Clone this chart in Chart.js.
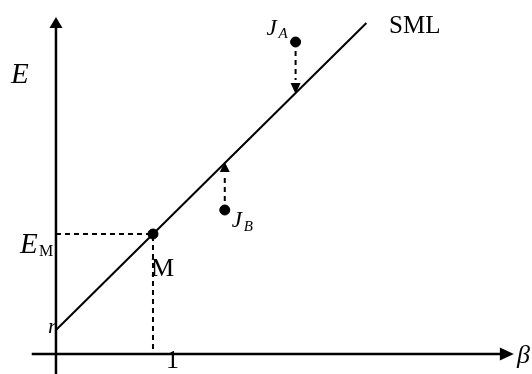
<!DOCTYPE html>
<html>
<head>
<meta charset="utf-8">
<script src="https://cdn.jsdelivr.net/npm/chart.js@4.4.0/dist/chart.umd.min.js"></script>
<style>
html, body { margin: 0; padding: 0; background: #fff; }
</style>
</head>
<body>
<canvas id="sml" width="532" height="374"></canvas>
<script>
// values (beta on x, expected return E on y)
const riskFree = 2.4;
const marketBeta = 1;
const marketReturn = 12;
const smlBeta = [0, 3.2];
const smlReturn = [2.4, 33.1];
const assetNames = ['A', 'B'];
const assetBeta = [2.47, 1.74];
const assetReturn = [31.2, 14.4];
const assetOnLine = [26.2, 19.1];   // SML value at each asset's beta
const xTickValues = [1];
const xTickLabels = ['1'];

const serif = '"Liberation Serif", "DejaVu Serif", serif';

function seg(xs, ys) {
    return xs.map((x, i) => ({ x: x, y: ys[i] }));
}

const black = '#000';
const datasets = [
    // x axis
    { data: seg([-0.25, 4.6], [0, 0]), borderWidth: 2.5 },
    // y axis
    { data: seg([0, 0], [-2.1, 32.8]), borderWidth: 2.5 },
    // security market line
    { data: seg(smlBeta, smlReturn), borderWidth: 2 },
    // market guide lines
    { data: seg([0, marketBeta, marketBeta], [marketReturn, marketReturn, 0]), borderWidth: 2, borderDash: [5, 4] },
    // J_A down to the line
    { data: seg([assetBeta[0], assetBeta[0]], [assetReturn[0], assetOnLine[0] + 1.2]), borderWidth: 2, borderDash: [5, 4] },
    // J_B up to the line
    { data: seg([assetBeta[1], assetBeta[1]], [assetReturn[1], assetOnLine[1] - 1.2]), borderWidth: 2, borderDash: [5, 4] },
    // dots
    {
        data: seg([marketBeta].concat(assetBeta), [marketReturn].concat(assetReturn)),
        showLine: false, pointRadius: 5, pointBackgroundColor: black, pointBorderColor: black
    }
].map(d => Object.assign({ borderColor: black, pointRadius: 0, showLine: true, fill: false }, d));

const decorations = {
    id: 'decorations',
    afterDatasetsDraw(chart) {
        const ctx = chart.ctx;
        const xs = chart.scales.x, ys = chart.scales.y;
        const px = v => xs.getPixelForValue(v);
        const py = v => ys.getPixelForValue(v);

        function tri(a, b, c) {
            ctx.beginPath();
            ctx.moveTo(a[0], a[1]); ctx.lineTo(b[0], b[1]); ctx.lineTo(c[0], c[1]);
            ctx.closePath();
            ctx.fill();
        }
        function text(str, x, y, size, italic) {
            ctx.font = (italic ? 'italic ' : '') + size + 'px ' + serif;
            ctx.fillText(str, x, y);
        }

        ctx.save();
        ctx.fillStyle = black;
        ctx.textBaseline = 'alphabetic';
        ctx.textAlign = 'left';

        // axis arrow heads
        const ox = px(0), oy = py(0);
        const yTop = py(33.7);
        tri([ox, yTop], [ox - 6.5, yTop + 11], [ox + 6.5, yTop + 11]);
        const xEnd = px(4.72);
        tri([xEnd, oy], [xEnd - 14, oy - 6.5], [xEnd - 14, oy + 6.5]);

        // arrow heads on the SML
        const ax = px(assetBeta[0]), ay = py(assetOnLine[0]);
        tri([ax, ay + 2], [ax - 5, ay - 9], [ax + 5, ay - 9]);
        const bx = px(assetBeta[1]), by = py(assetOnLine[1]);
        tri([bx, by - 1], [bx - 5, by + 9], [bx + 5, by + 9]);

        // labels
        text('E', 11, 83, 29, true);
        text('E', 20, 253, 29, true);
        text('M', 39, 256, 16, false);
        text('r', ox - 8, py(riskFree) + 3, 22, true);
        const mx = px(marketBeta), my = py(marketReturn);
        text('M', mx - 2, my + 42, 26, false);
        xTickValues.forEach((v, i) => text(xTickLabels[i], px(v) + 13, oy + 14, 26, false));
        text('β', 517, oy + 9, 26, true);
        text('SML', 389, 33, 25, false);

        const pax = px(assetBeta[0]), pay = py(assetReturn[0]);
        text('J', pax - 29, pay - 7, 23, true);
        text(assetNames[0], pax - 17, pay - 4, 15, true);
        const pbx = px(assetBeta[1]), pby = py(assetReturn[1]);
        text('J', pbx + 7, pby + 17, 23, true);
        text(assetNames[1], pbx + 19, pby + 21, 15, true);

        ctx.restore();
    }
};

new Chart(document.getElementById('sml'), {
    type: 'scatter',
    data: { datasets: datasets },
    options: {
        responsive: false,
        animation: false,
        layout: { padding: 0, autoPadding: false },
        plugins: { legend: { display: false }, tooltip: { enabled: false } },
        scales: {
            x: { type: 'linear', display: false, min: -0.577, max: 4.907 },
            y: { type: 'linear', display: false, min: -2.0, max: 35.4 }
        }
    },
    plugins: [decorations]
});
</script>
</body>
</html>
